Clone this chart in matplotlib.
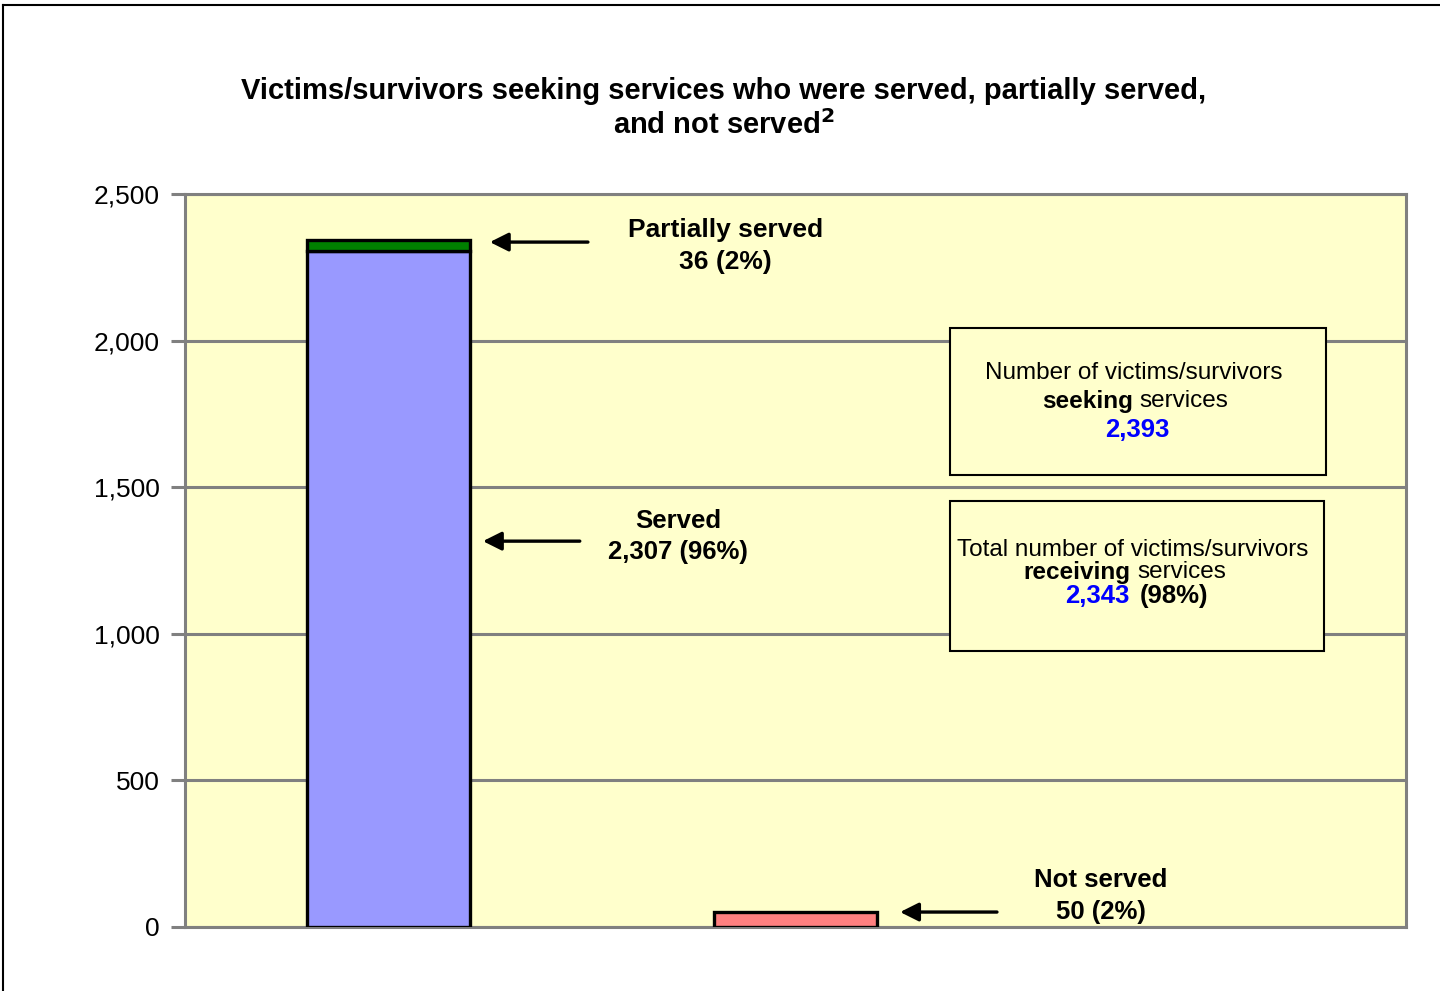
import matplotlib
matplotlib.use("Agg")
import matplotlib.pyplot as plt
from matplotlib.patches import Rectangle
from matplotlib.lines import Line2D

plt.rcParams['font.family'] = ['Liberation Sans', 'DejaVu Sans']

# Data
categories = ["Served / Partially served", "Not served", ""]
served = [2307, 0, 0]
partially_served = [36, 0, 0]
not_served = [0, 50, 0]
seeking_total = 2393
receiving_total = 2343
yticks = [0, 500, 1000, 1500, 2000, 2500]
ytick_labels = ["0", "500", "1,000", "1,500", "2,000", "2,500"]

W, H = 1440, 991
fig = plt.figure(figsize=(14.4, 9.91), dpi=100)
fig.patch.set_facecolor("white")

def fx(px):
    return px / W

def fy(py):
    return 1 - py / H

ax = fig.add_axes([fx(185), fy(927), fx(1406) - fx(185), fy(194) - fy(927)])
ax.set_facecolor("#FFFFCC")
x = [0, 1, 2]
ax.bar(x[0], served[0], width=0.4, color="#9999FF", edgecolor="black", linewidth=2.4, zorder=3)
ax.bar(x[0], partially_served[0], bottom=served[0], width=0.4, color="#008000",
       edgecolor="black", linewidth=2.4, zorder=3)
ax.bar(x[1], not_served[1], width=0.4, color="#FF8080", edgecolor="black", linewidth=2.4, zorder=3)

ax.set_xlim(-0.5, 2.5)
ax.set_ylim(0, 2500)
ax.set_xticks([])
ax.set_yticks(yticks)
ax.set_yticklabels(ytick_labels, fontsize=19)
ax.tick_params(axis="y", length=10, width=2.2, color="#808080", pad=8)
ax.yaxis.grid(True, color="#808080", linewidth=2.2, zorder=1)
ax.set_axisbelow(True)
for s in ax.spines.values():
    s.set_color("#808080")
    s.set_linewidth(2.2)

arrow_kw = dict(arrowstyle="-|>", color="black", lw=2.4, mutation_scale=28, shrinkA=0, shrinkB=0)
# Partially served
ax.annotate("", xy=(0.249, 2336), xytext=(0.490, 2336), arrowprops=arrow_kw, zorder=4)
ax.text(0.827, 2323, "Partially served\n36 (2%)", ha="center", va="center",
        fontsize=19, fontweight="bold", linespacing=1.38)
# Served
ax.annotate("", xy=(0.232, 1316), xytext=(0.470, 1316), arrowprops=arrow_kw, zorder=4)
ax.text(0.711, 1333, "Served\n2,307 (96%)", ha="center", va="center",
        fontsize=18.5, fontweight="bold", linespacing=1.38)
# Not served
ax.annotate("", xy=(1.257, 51), xytext=(1.495, 51), arrowprops=arrow_kw, zorder=4)
ax.text(1.751, 106, "Not served\n50 (2%)", ha="center", va="center",
        fontsize=18.5, fontweight="bold", linespacing=1.38)

# Info boxes (figure coordinates)
for (x0, y0, x1, y1) in [(950, 328, 1326, 475), (950, 501, 1324, 651)]:
    fig.patches.append(Rectangle((fx(x0), fy(y1)), fx(x1) - fx(x0), fy(y0) - fy(y1),
                                 transform=fig.transFigure, facecolor="#FFFFCC",
                                 edgecolor="black", linewidth=1.5, zorder=5))

fs_box = 17.5
fs_num = 18.5
fig.text(fx(1134), fy(373), "Number of victims/survivors", ha="center", va="center",
         fontsize=fs_box, zorder=6)
fig.text(fx(1133), fy(401), "seeking", ha="right", va="center", fontsize=fs_box,
         fontweight="bold", zorder=6)
fig.text(fx(1139), fy(401), "services", ha="left", va="center", fontsize=fs_box, zorder=6)
fig.text(fx(1137), fy(430), f"{seeking_total:,}", ha="center", va="center", fontsize=fs_num,
         fontweight="bold", color="#0000FF", zorder=6)

fig.text(fx(1133), fy(550), "Total number of victims/survivors", ha="center", va="center",
         fontsize=fs_box, zorder=6)
fig.text(fx(1130), fy(572), "receiving", ha="right", va="center", fontsize=fs_box,
         fontweight="bold", zorder=6)
fig.text(fx(1137), fy(572), "services", ha="left", va="center", fontsize=fs_box, zorder=6)
fig.text(fx(1129), fy(596), f"{receiving_total:,}", ha="right", va="center", fontsize=fs_num,
         fontweight="bold", color="#0000FF", zorder=6)
fig.text(fx(1140), fy(596), "(98%)", ha="left", va="center", fontsize=fs_num,
         fontweight="bold", zorder=6)

# Title
fig.text(fx(724), fy(91), "Victims/survivors seeking services who were served, partially served,",
         ha="center", va="center", fontsize=21, fontweight="bold")
fig.text(fx(724), fy(125), "and not served$^{\\mathbf{2}}$", ha="center", va="center", fontsize=21,
         fontweight="bold")

# Figure border (left and top visible)
fig.lines.append(Line2D([fx(3), fx(3)], [fy(5), 0], transform=fig.transFigure,
                        color="black", linewidth=1.5))
fig.lines.append(Line2D([fx(3), 1], [fy(5), fy(5)], transform=fig.transFigure,
                        color="black", linewidth=1.5))

fig.savefig("out.png", dpi=100)
